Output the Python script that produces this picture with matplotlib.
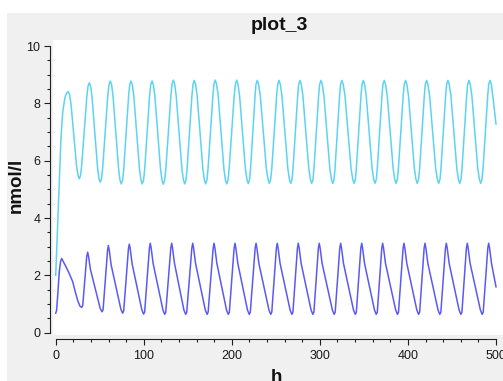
import matplotlib.pyplot as plt
from matplotlib.patches import Rectangle
from matplotlib.ticker import MultipleLocator

plt.rcParams['font.family'] = ['Liberation Sans', 'DejaVu Sans']

# cyan curve (upper): hours / nmol/l
t_cyan = [0, 1.5, 3, 4.5, 6, 8, 10.5, 12.5, 14.3,
          15.8, 17.4, 20.6, 23.7, 25.3, 26.8,
          28.3, 29.6, 32.5, 35.3, 36.7, 38.2,
          39.7, 41.3, 44.4, 47.5, 49.1, 50.6,
          52.1, 53.4, 56.3, 59.1, 60.5, 62.0,
          63.5, 65.1, 68.3, 71.4, 73.0, 74.5,
          76.0, 77.3, 80.0, 82.8, 84.0, 85.5,
          87.0, 88.7, 91.9, 95.1, 96.8, 98.3,
          99.8, 101.1, 103.9, 106.6, 107.9, 109.4,
          110.9, 112.6, 115.8, 119.0, 120.7, 122.2,
          123.7, 125.1, 127.9, 130.8, 132.1, 133.6,
          135.1, 136.8, 140.1, 143.3, 145.0, 146.5,
          148.0, 149.2, 152.0, 154.7, 155.9, 157.4,
          158.9, 160.6, 163.9, 167.1, 168.8, 170.3,
          171.8, 173.0, 175.8, 178.5, 179.7, 181.2,
          182.7, 184.5, 187.7, 191.0, 192.7, 194.2,
          195.7, 197.0, 199.9, 202.7, 204.0, 205.5,
          207.0, 208.8, 212.1, 215.4, 217.2, 218.7,
          220.2, 221.3, 223.8, 226.4, 227.4, 228.9,
          230.4, 232.3, 235.8, 239.2, 241.1, 242.6,
          244.1, 245.4, 248.1, 250.9, 252.1, 253.6,
          255.1, 256.9, 260.3, 263.6, 265.4, 266.9,
          268.4, 269.5, 272.2, 274.8, 275.9, 277.4,
          278.9, 280.7, 284.1, 287.4, 289.2, 290.7,
          292.2, 293.3, 296.0, 298.6, 299.7, 301.2,
          302.7, 304.6, 307.9, 311.3, 313.1, 314.6,
          316.1, 317.2, 319.8, 322.4, 323.5, 325.0,
          326.5, 328.5, 331.9, 335.4, 337.3, 338.8,
          340.3, 341.4, 344.1, 346.7, 347.8, 349.3,
          350.8, 352.6, 356.0, 359.3, 361.1, 362.6,
          364.1, 365.2, 367.9, 370.5, 371.6, 373.1,
          374.6, 376.5, 379.8, 383.2, 385.0, 386.5,
          388.0, 389.2, 391.9, 394.6, 395.8, 397.3,
          398.8, 400.6, 404.0, 407.3, 409.1, 410.6,
          412.1, 413.3, 415.9, 418.6, 419.7, 421.2,
          422.7, 424.6, 428.1, 431.5, 433.4, 434.9,
          436.4, 437.5, 440.2, 442.8, 443.9, 445.4,
          446.9, 448.8, 452.1, 455.5, 457.3, 458.8,
          460.3, 461.4, 464.1, 466.7, 467.8, 469.3,
          470.8, 472.6, 476.0, 479.3, 481.1, 482.6,
          484.1, 485.3, 487.9, 490.6, 491.7, 493.2,
          494.7, 497.0, 500.0]
v_cyan = [2.0, 3.2, 4.4, 5.7, 6.8, 7.7, 8.2, 8.36, 8.41,
          8.30, 7.97, 6.89, 5.81, 5.49, 5.37,
          5.50, 5.86, 7.05, 8.23, 8.59, 8.72,
          8.59, 8.21, 6.99, 5.76, 5.38, 5.25,
          5.38, 5.77, 7.02, 8.26, 8.65, 8.78,
          8.65, 8.25, 6.99, 5.72, 5.32, 5.19,
          5.33, 5.72, 6.99, 8.26, 8.65, 8.78,
          8.65, 8.26, 6.99, 5.72, 5.33, 5.19,
          5.33, 5.72, 6.99, 8.26, 8.65, 8.78,
          8.65, 8.26, 6.99, 5.72, 5.32, 5.18,
          5.32, 5.72, 7.0, 8.27, 8.67, 8.81,
          8.67, 8.27, 7.0, 5.72, 5.33, 5.19,
          5.33, 5.72, 7.0, 8.27, 8.66, 8.80,
          8.66, 8.27, 7.0, 5.72, 5.33, 5.19,
          5.33, 5.73, 7.0, 8.27, 8.67, 8.81,
          8.67, 8.27, 7.0, 5.72, 5.33, 5.19,
          5.33, 5.73, 7.0, 8.27, 8.67, 8.81,
          8.67, 8.27, 7.0, 5.72, 5.34, 5.20,
          5.34, 5.73, 7.0, 8.27, 8.66, 8.80,
          8.66, 8.27, 7.0, 5.73, 5.35, 5.21,
          5.35, 5.73, 7.0, 8.27, 8.66, 8.80,
          8.66, 8.27, 7.0, 5.73, 5.35, 5.21,
          5.35, 5.73, 7.0, 8.27, 8.66, 8.80,
          8.66, 8.27, 7.0, 5.73, 5.35, 5.21,
          5.35, 5.73, 7.0, 8.27, 8.66, 8.80,
          8.66, 8.27, 7.0, 5.73, 5.35, 5.21,
          5.35, 5.73, 7.0, 8.27, 8.66, 8.80,
          8.66, 8.27, 7.0, 5.73, 5.35, 5.21,
          5.35, 5.73, 7.0, 8.27, 8.66, 8.80,
          8.66, 8.27, 7.0, 5.73, 5.35, 5.21,
          5.35, 5.73, 7.0, 8.27, 8.66, 8.80,
          8.66, 8.27, 7.0, 5.73, 5.35, 5.21,
          5.35, 5.73, 7.0, 8.27, 8.66, 8.80,
          8.66, 8.27, 7.0, 5.73, 5.35, 5.21,
          5.35, 5.73, 7.0, 8.27, 8.66, 8.80,
          8.66, 8.27, 7.0, 5.73, 5.35, 5.21,
          5.35, 5.73, 7.0, 8.27, 8.66, 8.80,
          8.66, 8.27, 7.0, 5.73, 5.35, 5.21,
          5.35, 5.73, 7.0, 8.27, 8.66, 8.80,
          8.66, 8.27, 7.0, 5.73, 5.35, 5.21,
          5.35, 5.73, 7.0, 8.27, 8.66, 8.80,
          8.66, 8.1, 7.28]

# blue curve (lower)
t_blue = [0, 1, 2.5, 4, 5.5, 6.8,
          10, 13, 16, 19.3, 22, 25, 27.5, 29.5,
          30.7, 35.2, 36.3, 37.3, 39.5, 50.5, 52.6,
          53.8, 58.9, 59.8, 60.8, 63.0, 74.0, 76.0,
          77.2, 82.6, 83.6, 84.6, 86.8, 97.8, 99.8,
          101.0, 106.4, 107.4, 108.4, 110.6, 121.8, 123.8,
          125.0, 130.7, 131.7, 132.7, 134.9, 145.6, 147.6,
          148.8, 154.6, 155.6, 156.6, 158.8, 169.9, 171.9,
          173.1, 178.8, 179.8, 180.8, 183.0, 194.0, 196.0,
          197.2, 202.6, 203.6, 204.6, 206.8, 217.8, 219.8,
          221.0, 226.5, 227.5, 228.5, 230.7, 242.2, 244.2,
          245.4, 250.6, 251.6, 252.6, 254.8, 266.2, 268.2,
          269.4, 274.5, 275.5, 276.5, 278.7, 290.0, 292.0,
          293.2, 298.3, 299.3, 300.3, 302.5, 314.2, 316.2,
          317.4, 322.6, 323.6, 324.6, 326.8, 338.2, 340.2,
          341.4, 346.5, 347.5, 348.5, 350.7, 362.0, 364.0,
          365.2, 370.3, 371.3, 372.3, 374.5, 386.1, 388.1,
          389.3, 394.5, 395.5, 396.5, 398.7, 410.1, 412.1,
          413.3, 418.4, 419.4, 420.4, 422.6, 434.2, 436.2,
          437.4, 442.6, 443.6, 444.6, 446.8, 458.1, 460.1,
          461.3, 466.4, 467.4, 468.4, 470.6, 482.3, 484.3,
          485.5, 490.7, 491.7, 492.7, 494.9, 500.0]
v_blue = [0.68, 0.78, 1.4, 2.1, 2.48, 2.59,
          2.4, 2.22, 2.02, 1.78, 1.45, 1.12, 0.93, 0.88,
          0.95, 2.65, 2.81, 2.66, 2.2, 0.85, 0.73,
          0.8, 2.88, 3.04, 2.88, 2.36, 0.82, 0.68,
          0.76, 2.93, 3.09, 2.93, 2.4, 0.8, 0.65,
          0.72, 2.95, 3.12, 2.95, 2.42, 0.79, 0.64,
          0.72, 2.95, 3.12, 2.95, 2.42, 0.79, 0.64,
          0.72, 2.95, 3.12, 2.95, 2.42, 0.79, 0.64,
          0.72, 2.95, 3.12, 2.95, 2.42, 0.79, 0.64,
          0.72, 2.95, 3.12, 2.95, 2.42, 0.79, 0.64,
          0.72, 2.95, 3.12, 2.95, 2.42, 0.79, 0.64,
          0.72, 2.95, 3.12, 2.95, 2.42, 0.79, 0.64,
          0.72, 2.95, 3.12, 2.95, 2.42, 0.79, 0.64,
          0.72, 2.95, 3.12, 2.95, 2.42, 0.79, 0.64,
          0.72, 2.95, 3.12, 2.95, 2.42, 0.79, 0.64,
          0.72, 2.95, 3.12, 2.95, 2.42, 0.79, 0.64,
          0.72, 2.95, 3.12, 2.95, 2.42, 0.79, 0.64,
          0.72, 2.95, 3.12, 2.95, 2.42, 0.79, 0.64,
          0.72, 2.95, 3.12, 2.95, 2.42, 0.79, 0.64,
          0.72, 2.95, 3.12, 2.95, 2.42, 0.79, 0.64,
          0.72, 2.95, 3.12, 2.95, 2.42, 0.79, 0.64,
          0.72, 2.95, 3.12, 2.95, 2.42, 1.6]

W, H = 503, 381
fig = plt.figure(figsize=(W / 100, H / 100), dpi=100)
fig.patch.set_facecolor('white')
# grey panel behind the plot
fig.add_artist(Rectangle((7 / W, 0), 1, 1 - 13 / H, transform=fig.transFigure,
                         facecolor='#f0f0f0', edgecolor='none', zorder=-5))

ax = fig.add_axes([53 / W, 1 - 335 / H, 450 / W, 295 / H])
ax.set_facecolor('white')

ax.plot(t_blue, v_blue, color='#5a5af2', lw=1.1)
ax.plot(t_cyan, v_cyan, color='#5cd3f4', lw=1.1)

ax.set_xlim(-3.07, 507.95)
ax.set_ylim(-0.08, 10.21)

for s in ['top', 'right']:
    ax.spines[s].set_visible(False)
ax.spines['left'].set_position(('outward', 2.2))
ax.spines['bottom'].set_position(('outward', 2.9))
ax.spines['left'].set_bounds(0, 10)
ax.spines['bottom'].set_bounds(0, 500)
for s in ['left', 'bottom']:
    ax.spines[s].set_color('#202020')
    ax.spines[s].set_linewidth(0.8)

ax.xaxis.set_major_locator(MultipleLocator(100))
ax.xaxis.set_minor_locator(MultipleLocator(20))
ax.yaxis.set_major_locator(MultipleLocator(2))
ax.yaxis.set_minor_locator(MultipleLocator(0.5))
ax.tick_params(which='major', length=4.5, width=0.8, color='#202020',
               labelsize=9, labelcolor='#1a1a1a')
ax.tick_params(which='minor', length=2.5, width=0.8, color='#202020')
ax.tick_params(axis='y', which='major', pad=2.5)
ax.tick_params(axis='x', which='major', pad=3.5)

fig.text(279.5 / W, 1 - 30.5 / H, 'plot_3', ha='center', va='baseline',
         fontsize=14, fontweight='bold', color='#111111')
fig.text(16 / W, 1 - 185 / H, 'nmol/l', rotation=90, ha='center', va='center',
         fontsize=13.5, fontweight='bold', color='#111111')
fig.text(276 / W, 1 - 382 / H, 'h', ha='center', va='baseline',
         fontsize=13.5, fontweight='bold', color='#111111')

fig.savefig('out.png', dpi=100)
